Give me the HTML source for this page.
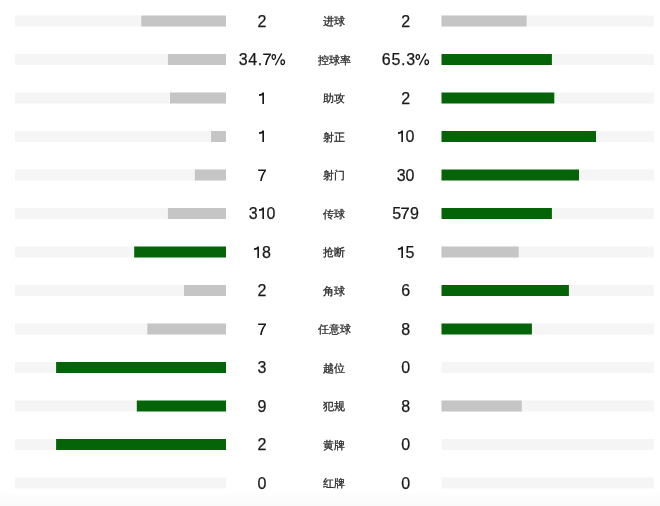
<!DOCTYPE html>
<html><head><meta charset="utf-8"><style>
html,body{margin:0;padding:0;background:#fff;}
body{width:660px;height:506px;position:relative;overflow:hidden;-webkit-font-smoothing:antialiased;font-family:"Liberation Sans",sans-serif;}
svg.bars{position:absolute;left:0;top:0;}
.n{position:absolute;width:100px;height:20px;line-height:20px;text-align:center;font-size:16px;color:#1a1a1a;-webkit-text-stroke:0.25px #1a1a1a;}
.l{position:absolute;width:100px;height:20px;line-height:20px;text-align:center;font-size:11.3px;color:#2b2b2b;-webkit-text-stroke:0.3px #2b2b2b;}
.one{display:inline;vertical-align:baseline;}
.tl{position:absolute;left:0;top:0;width:660px;height:506px;will-change:transform;}
.p{letter-spacing:0.7px;text-indent:0.7px;}
</style></head><body>
<svg class="bars" width="660" height="506" viewBox="0 0 660 506">
<rect x="0" y="493" width="660" height="6" fill="#fdfdfd"/><rect x="0" y="499" width="660" height="5" fill="#fbfbfb"/><rect x="0" y="504" width="660" height="2" fill="#fafafa"/>
<rect x="15" y="15.5" width="211" height="11" fill="#f5f5f5"/>
<rect x="441.5" y="15.5" width="212.5" height="11" fill="#f5f5f5"/>
<rect x="141.3" y="15.5" width="84.7" height="11" fill="#c5c5c5"/>
<rect x="441.5" y="15.5" width="85.1" height="11" fill="#c5c5c5"/>
<rect x="15" y="54.0" width="211" height="11" fill="#f5f5f5"/>
<rect x="441.5" y="54.0" width="212.5" height="11" fill="#f5f5f5"/>
<rect x="167.9" y="54.0" width="58.1" height="11" fill="#c5c5c5"/>
<rect x="441.5" y="54.0" width="110.4" height="11" fill="#066408"/>
<rect x="15" y="92.5" width="211" height="11" fill="#f5f5f5"/>
<rect x="441.5" y="92.5" width="212.5" height="11" fill="#f5f5f5"/>
<rect x="170" y="92.5" width="56.0" height="11" fill="#c5c5c5"/>
<rect x="441.5" y="92.5" width="112.8" height="11" fill="#066408"/>
<rect x="15" y="131.0" width="211" height="11" fill="#f5f5f5"/>
<rect x="441.5" y="131.0" width="212.5" height="11" fill="#f5f5f5"/>
<rect x="211.1" y="131.0" width="14.9" height="11" fill="#c5c5c5"/>
<rect x="441.5" y="131.0" width="154.5" height="11" fill="#066408"/>
<rect x="15" y="169.5" width="211" height="11" fill="#f5f5f5"/>
<rect x="441.5" y="169.5" width="212.5" height="11" fill="#f5f5f5"/>
<rect x="194.9" y="169.5" width="31.1" height="11" fill="#c5c5c5"/>
<rect x="441.5" y="169.5" width="137.5" height="11" fill="#066408"/>
<rect x="15" y="208.0" width="211" height="11" fill="#f5f5f5"/>
<rect x="441.5" y="208.0" width="212.5" height="11" fill="#f5f5f5"/>
<rect x="167.9" y="208.0" width="58.1" height="11" fill="#c5c5c5"/>
<rect x="441.5" y="208.0" width="110.4" height="11" fill="#066408"/>
<rect x="15" y="246.5" width="211" height="11" fill="#f5f5f5"/>
<rect x="441.5" y="246.5" width="212.5" height="11" fill="#f5f5f5"/>
<rect x="134.2" y="246.5" width="91.8" height="11" fill="#066408"/>
<rect x="441.5" y="246.5" width="77.2" height="11" fill="#c5c5c5"/>
<rect x="15" y="285.0" width="211" height="11" fill="#f5f5f5"/>
<rect x="441.5" y="285.0" width="212.5" height="11" fill="#f5f5f5"/>
<rect x="184" y="285.0" width="42.0" height="11" fill="#c5c5c5"/>
<rect x="441.5" y="285.0" width="127.4" height="11" fill="#066408"/>
<rect x="15" y="323.5" width="211" height="11" fill="#f5f5f5"/>
<rect x="441.5" y="323.5" width="212.5" height="11" fill="#f5f5f5"/>
<rect x="147.3" y="323.5" width="78.7" height="11" fill="#c5c5c5"/>
<rect x="441.5" y="323.5" width="90.4" height="11" fill="#066408"/>
<rect x="15" y="362.0" width="211" height="11" fill="#f5f5f5"/>
<rect x="441.5" y="362.0" width="212.5" height="11" fill="#f5f5f5"/>
<rect x="56.1" y="362.0" width="169.9" height="11" fill="#066408"/>
<rect x="15" y="400.5" width="211" height="11" fill="#f5f5f5"/>
<rect x="441.5" y="400.5" width="212.5" height="11" fill="#f5f5f5"/>
<rect x="136.8" y="400.5" width="89.2" height="11" fill="#066408"/>
<rect x="441.5" y="400.5" width="80.3" height="11" fill="#c5c5c5"/>
<rect x="15" y="439.0" width="211" height="11" fill="#f5f5f5"/>
<rect x="441.5" y="439.0" width="212.5" height="11" fill="#f5f5f5"/>
<rect x="56.1" y="439.0" width="169.9" height="11" fill="#066408"/>
<rect x="15" y="477.5" width="211" height="11" fill="#f5f5f5"/>
<rect x="441.5" y="477.5" width="212.5" height="11" fill="#f5f5f5"/>
</svg>
<div class="tl"><div class="n" style="left:212px;top:11.9px">2</div>
<div class="l" style="left:284px;top:11.4px">进球</div>
<div class="n" style="left:355.6px;top:11.9px">2</div>
<div class="n p" style="left:212px;top:50.4px">34.<svg class="one" width="8.9" height="12" viewBox="0 -12 8.9 12" overflow="visible"><path d="M0.2 -11.5 L7.95 -11.5 L7.95 -10.1 C5.95 -7.6 4.25 -4.0 3.8 0 L2.1 0 C2.55 -3.8 4.25 -7.4 6.25 -9.9 L0.2 -9.9 Z" fill="#1a1a1a"/></svg><svg class="one" width="14.2" height="12" viewBox="0 -12 14.2 12" overflow="visible"><g fill="none" stroke="#1a1a1a" stroke-width="1.3"><ellipse cx="1.8" cy="-7.95" rx="1.7" ry="2.35"/><ellipse cx="10.75" cy="-2.85" rx="1.75" ry="2.35"/><path d="M9.8 -11.6 L3.3 0.3"/></g></svg></div>
<div class="l" style="left:284px;top:49.9px">控球率</div>
<div class="n p" style="left:355.6px;top:50.4px">65.3<svg class="one" width="14.2" height="12" viewBox="0 -12 14.2 12" overflow="visible"><g fill="none" stroke="#1a1a1a" stroke-width="1.3"><ellipse cx="1.8" cy="-7.95" rx="1.7" ry="2.35"/><ellipse cx="10.75" cy="-2.85" rx="1.75" ry="2.35"/><path d="M9.8 -11.6 L3.3 0.3"/></g></svg></div>
<div class="n" style="left:212px;top:88.9px"><svg class="one" width="8.9" height="12" viewBox="0 -12 8.9 12" overflow="visible"><path d="M6.0 -11.5 L6.0 0 L4.35 0 L4.35 -8.7 C3.4 -8.3 2.2 -8.1 1.0 -8.1 L1.0 -9.7 C2.8 -9.8 4.0 -10.5 4.4 -11.5 Z" fill="#1a1a1a"/></svg></div>
<div class="l" style="left:284px;top:88.4px">助攻</div>
<div class="n" style="left:355.6px;top:88.9px">2</div>
<div class="n" style="left:212px;top:127.4px"><svg class="one" width="8.9" height="12" viewBox="0 -12 8.9 12" overflow="visible"><path d="M6.0 -11.5 L6.0 0 L4.35 0 L4.35 -8.7 C3.4 -8.3 2.2 -8.1 1.0 -8.1 L1.0 -9.7 C2.8 -9.8 4.0 -10.5 4.4 -11.5 Z" fill="#1a1a1a"/></svg></div>
<div class="l" style="left:284px;top:126.9px">射正</div>
<div class="n" style="left:355.6px;top:127.4px"><svg class="one" width="8.9" height="12" viewBox="0 -12 8.9 12" overflow="visible"><path d="M6.0 -11.5 L6.0 0 L4.35 0 L4.35 -8.7 C3.4 -8.3 2.2 -8.1 1.0 -8.1 L1.0 -9.7 C2.8 -9.8 4.0 -10.5 4.4 -11.5 Z" fill="#1a1a1a"/></svg>0</div>
<div class="n" style="left:212px;top:165.9px"><svg class="one" width="8.9" height="12" viewBox="0 -12 8.9 12" overflow="visible"><path d="M0.2 -11.5 L7.95 -11.5 L7.95 -10.1 C5.95 -7.6 4.25 -4.0 3.8 0 L2.1 0 C2.55 -3.8 4.25 -7.4 6.25 -9.9 L0.2 -9.9 Z" fill="#1a1a1a"/></svg></div>
<div class="l" style="left:284px;top:165.4px">射门</div>
<div class="n" style="left:355.6px;top:165.9px">30</div>
<div class="n" style="left:212px;top:204.4px">3<svg class="one" width="8.9" height="12" viewBox="0 -12 8.9 12" overflow="visible"><path d="M6.0 -11.5 L6.0 0 L4.35 0 L4.35 -8.7 C3.4 -8.3 2.2 -8.1 1.0 -8.1 L1.0 -9.7 C2.8 -9.8 4.0 -10.5 4.4 -11.5 Z" fill="#1a1a1a"/></svg>0</div>
<div class="l" style="left:284px;top:203.9px">传球</div>
<div class="n" style="left:355.6px;top:204.4px">5<svg class="one" width="8.9" height="12" viewBox="0 -12 8.9 12" overflow="visible"><path d="M0.2 -11.5 L7.95 -11.5 L7.95 -10.1 C5.95 -7.6 4.25 -4.0 3.8 0 L2.1 0 C2.55 -3.8 4.25 -7.4 6.25 -9.9 L0.2 -9.9 Z" fill="#1a1a1a"/></svg>9</div>
<div class="n" style="left:212px;top:242.9px"><svg class="one" width="8.9" height="12" viewBox="0 -12 8.9 12" overflow="visible"><path d="M6.0 -11.5 L6.0 0 L4.35 0 L4.35 -8.7 C3.4 -8.3 2.2 -8.1 1.0 -8.1 L1.0 -9.7 C2.8 -9.8 4.0 -10.5 4.4 -11.5 Z" fill="#1a1a1a"/></svg>8</div>
<div class="l" style="left:284px;top:242.4px">抢断</div>
<div class="n" style="left:355.6px;top:242.9px"><svg class="one" width="8.9" height="12" viewBox="0 -12 8.9 12" overflow="visible"><path d="M6.0 -11.5 L6.0 0 L4.35 0 L4.35 -8.7 C3.4 -8.3 2.2 -8.1 1.0 -8.1 L1.0 -9.7 C2.8 -9.8 4.0 -10.5 4.4 -11.5 Z" fill="#1a1a1a"/></svg>5</div>
<div class="n" style="left:212px;top:281.4px">2</div>
<div class="l" style="left:284px;top:280.9px">角球</div>
<div class="n" style="left:355.6px;top:281.4px">6</div>
<div class="n" style="left:212px;top:319.9px"><svg class="one" width="8.9" height="12" viewBox="0 -12 8.9 12" overflow="visible"><path d="M0.2 -11.5 L7.95 -11.5 L7.95 -10.1 C5.95 -7.6 4.25 -4.0 3.8 0 L2.1 0 C2.55 -3.8 4.25 -7.4 6.25 -9.9 L0.2 -9.9 Z" fill="#1a1a1a"/></svg></div>
<div class="l" style="left:284px;top:319.4px">任意球</div>
<div class="n" style="left:355.6px;top:319.9px">8</div>
<div class="n" style="left:212px;top:358.4px">3</div>
<div class="l" style="left:284px;top:357.9px">越位</div>
<div class="n" style="left:355.6px;top:358.4px">0</div>
<div class="n" style="left:212px;top:396.9px">9</div>
<div class="l" style="left:284px;top:396.4px">犯规</div>
<div class="n" style="left:355.6px;top:396.9px">8</div>
<div class="n" style="left:212px;top:435.4px">2</div>
<div class="l" style="left:284px;top:434.9px">黄牌</div>
<div class="n" style="left:355.6px;top:435.4px">0</div>
<div class="n" style="left:212px;top:473.9px">0</div>
<div class="l" style="left:284px;top:473.4px">红牌</div>
<div class="n" style="left:355.6px;top:473.9px">0</div></div>
</body></html>
